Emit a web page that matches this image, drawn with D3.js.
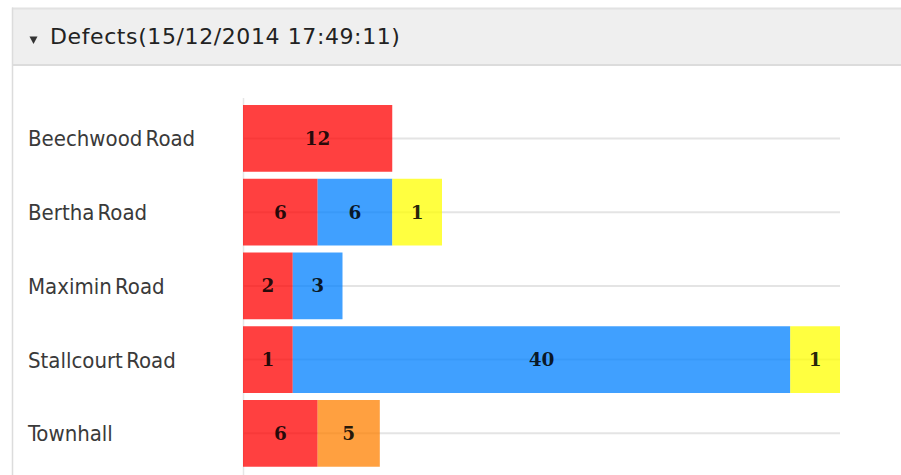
<!DOCTYPE html>
<html>
<head>
<meta charset="utf-8">
<script src="https://cdn.jsdelivr.net/npm/d3@7"></script>
<style>
  html, body { margin: 0; padding: 0; background: #fff; overflow: hidden; }
  svg { display: block; }
</style>
</head>
<body>
<svg id="chart" width="901" height="475"></svg>
<script>
// Defect counts per site, one array per severity colour
const categories = ["Beechwood Road", "Bertha Road", "Maximin Road", "Stallcourt Road", "Townhall"];
const redValues    = [12, 6, 2, 1, 6];
const blueValues   = [0, 6, 3, 40, 0];
const orangeValues = [0, 0, 0, 0, 5];
const yellowValues = [0, 1, 0, 1, 0];
const seriesKeys   = ["red", "blue", "orange", "yellow"];
const panelTitle   = "Defects(15/12/2014 17:49:11)";

// Segments narrower than this (in value units) are widened so the label fits
const minSegmentUnits = 4;

const seriesData = { red: redValues, blue: blueValues, orange: orangeValues, yellow: yellowValues };
const colour = d3.scaleOrdinal()
  .domain(seriesKeys)
  .range(["#ff0000", "#0080ff", "#ff8000", "#ffff00"]);

const svg = d3.select("#chart");

// Panel frame and header
svg.append("rect").attr("x", 12).attr("y", 8).attr("width", 900).attr("height", 57)
  .attr("fill", "#efefef");
svg.append("line").attr("x1", 12).attr("x2", 901).attr("y1", 8.5).attr("y2", 8.5)
  .attr("stroke", "#e2e2e2").attr("stroke-width", 2);
svg.append("line").attr("x1", 12).attr("x2", 901).attr("y1", 65).attr("y2", 65)
  .attr("stroke", "#dcdcdc").attr("stroke-width", 2);
svg.append("line").attr("x1", 12.5).attr("x2", 12.5).attr("y1", 7.5).attr("y2", 475)
  .attr("stroke", "#dcdcdc").attr("stroke-width", 1.5);

svg.append("path")
  .attr("d", "M29.5,36.5 L37.5,36.5 L33.5,44 Z")
  .attr("fill", "#333");
svg.append("text")
  .attr("x", 50).attr("y", 44)
  .attr("font-family", "'DejaVu Sans', Verdana, sans-serif")
  .attr("font-size", 22)
  .attr("letter-spacing", 0.6)
  .attr("fill", "#222")
  .text(panelTitle);

// Scales
const x = d3.scaleLinear().domain([0, 48]).range([243, 840]);
const y = d3.scaleBand().domain(categories).range([98, 473.75])
  .paddingInner(0.095).paddingOuter(0.095);

// Stack the segments with the minimum display width applied
const segments = [];
categories.forEach((cat, i) => {
  let acc = 0;
  seriesKeys.forEach(key => {
    const v = seriesData[key][i];
    if (!v) return;
    const w = Math.max(v, minSegmentUnits);
    segments.push({ cat, key, value: v, x0: acc, x1: acc + w });
    acc += w;
  });
});

// Vertical axis line
svg.append("line")
  .attr("x1", x(0) + 0.5).attr("x2", x(0) + 0.5)
  .attr("y1", 98).attr("y2", 475)
  .attr("stroke", "#e6e6e6").attr("stroke-width", 1.5);

// Horizontal grid lines through each band centre
svg.append("g").selectAll("line")
  .data(categories)
  .join("line")
  .attr("x1", x(0)).attr("x2", x.range()[1])
  .attr("y1", d => y(d) + y.bandwidth() / 2)
  .attr("y2", d => y(d) + y.bandwidth() / 2)
  .attr("stroke", "#e4e4e4").attr("stroke-width", 2);

// Category labels
svg.append("g").selectAll("text")
  .data(categories)
  .join("text")
  .attr("x", 28)
  .attr("y", d => y(d) + y.bandwidth() / 2 + 8)
  .attr("font-family", "'DejaVu Sans Condensed', 'DejaVu Sans', sans-serif")
  .attr("font-stretch", "condensed")
  .attr("font-size", 22)
  .attr("word-spacing", -3)
  .attr("fill", "#3a3a3a")
  .text(d => d);

// Bars
svg.append("g").selectAll("rect")
  .data(segments)
  .join("rect")
  .attr("x", d => x(d.x0))
  .attr("width", d => x(d.x1) - x(d.x0))
  .attr("y", d => y(d.cat))
  .attr("height", y.bandwidth())
  .attr("fill", d => colour(d.key))
  .attr("fill-opacity", 0.75);

// Value labels
svg.append("g").selectAll("text")
  .data(segments)
  .join("text")
  .attr("x", d => (x(d.x0) + x(d.x1)) / 2)
  .attr("y", d => y(d.cat) + y.bandwidth() / 2 + 6.5)
  .attr("text-anchor", "middle")
  .attr("font-family", "'DejaVu Serif', serif")
  .attr("font-weight", "bold")
  .attr("font-size", 18.5)
  .attr("fill", "#000")
  .attr("fill-opacity", 0.85)
  .text(d => d.value);
</script>
</body>
</html>
